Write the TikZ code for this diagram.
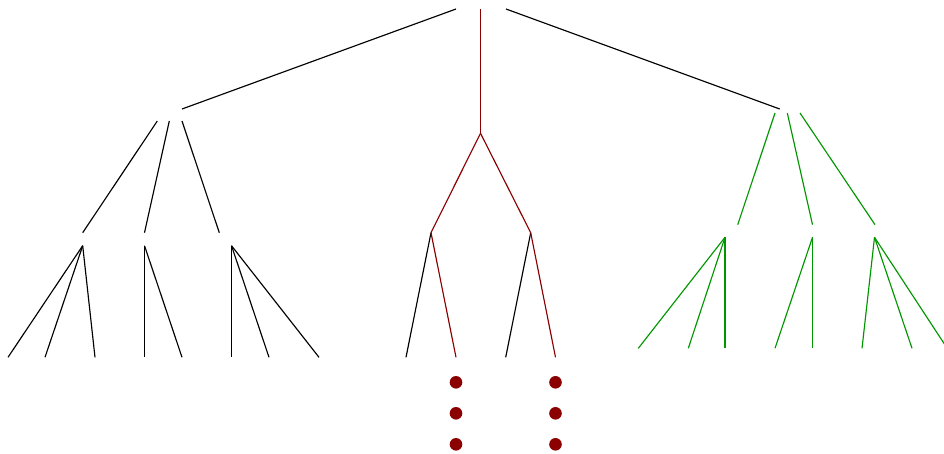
\documentclass[tikz,border=0pt]{standalone}
\definecolor{pathred}{RGB}{139,0,0}
\definecolor{treegreen}{RGB}{0,150,0}
\tikzset{
  branch/.style={draw=black, line width=1.15pt},
  redbranch/.style={draw=pathred, line width=1.15pt},
  greenbranch/.style={draw=treegreen, line width=1.15pt},
  ellipsisdot/.style={circle, fill=pathred, draw=none, inner sep=0pt, minimum size=12.6pt}
}
\begin{document}
\begin{tikzpicture}[x=1pt, y=-1pt]
\useasboundingbox (0,0) rectangle (944,453);
\clip (0,0) rectangle (944,453);

% root: three edge anchors along its lower side
\coordinate (r-sw) at (456,9);
\coordinate (r-s)  at (480.5,9);
\coordinate (r-se) at (506,9);

% left child
\coordinate (l-in) at (182,109);
\coordinate (l-a)  at (157.3,121);
\coordinate (l-b)  at (169.3,121);
\coordinate (l-c)  at (182,121);

% middle child (highlighted path)
\coordinate (m) at (480.5,133.3);

% right child
\coordinate (g-in) at (779.7,109);
\coordinate (g-a)  at (775,113);
\coordinate (g-b)  at (787.3,113);
\coordinate (g-c)  at (800,113);

% third level, left subtree
\coordinate (la-in) at (82.7,232.7);   \coordinate (la) at (82.7,245.7);
\coordinate (lb-in) at (144.5,232.7);  \coordinate (lb) at (144.5,245.7);
\coordinate (lc-in) at (219.3,232.7);  \coordinate (lc) at (231.5,245.7);

% third level, middle subtree
\coordinate (ma) at (431,232.7);
\coordinate (mb) at (530.7,232.7);

% third level, right subtree
\coordinate (ga-in) at (737.7,224.7);  \coordinate (ga) at (725,237.3);
\coordinate (gb-in) at (812.5,224.7);  \coordinate (gb) at (812.5,237.3);
\coordinate (gc-in) at (875,224.7);    \coordinate (gc) at (874.5,237.3);

% leaves, left subtree
\coordinate (la1) at (8,357.3);    \coordinate (la2) at (45,357.3);   \coordinate (la3) at (95,357.3);
\coordinate (lb1) at (144.5,357.3);\coordinate (lb2) at (182,357.3);
\coordinate (lc1) at (231.5,357.3);\coordinate (lc2) at (269,357.3);  \coordinate (lc3) at (319,357.3);

% leaves, middle subtree
\coordinate (ma1) at (406,357.3);  \coordinate (ma2) at (456,357.3);
\coordinate (mb1) at (505.7,357.3);\coordinate (mb2) at (555.5,357.3);

% leaves, right subtree
\coordinate (ga1) at (638.3,348.3);\coordinate (ga2) at (688.3,348.3);\coordinate (ga3) at (725,348.3);
\coordinate (gb1) at (775,348.3);  \coordinate (gb2) at (812.5,348.3);
\coordinate (gc1) at (862,348.3);  \coordinate (gc2) at (912,348.3);  \coordinate (gc3) at (947.2,348.3);

% root edges
\draw[branch] (r-sw) -- (l-in);
\draw[redbranch] (r-s) -- (m);
\draw[branch] (r-se) -- (g-in);

% left subtree
\draw[branch] (l-a) -- (la-in);
\draw[branch] (l-b) -- (lb-in);
\draw[branch] (l-c) -- (lc-in);
\draw[branch] (la) -- (la1);
\draw[branch] (la) -- (la2);
\draw[branch] (la) -- (la3);
\draw[branch] (lb) -- (lb1);
\draw[branch] (lb) -- (lb2);
\draw[branch] (lc) -- (lc1);
\draw[branch] (lc) -- (lc2);
\draw[branch] (lc) -- (lc3);

% middle subtree
\draw[redbranch] (m) -- (ma);
\draw[redbranch] (m) -- (mb);
\draw[branch] (ma) -- (ma1);
\draw[redbranch] (ma) -- (ma2);
\draw[branch] (mb) -- (mb1);
\draw[redbranch] (mb) -- (mb2);

% right subtree
\draw[greenbranch] (g-a) -- (ga-in);
\draw[greenbranch] (g-b) -- (gb-in);
\draw[greenbranch] (g-c) -- (gc-in);
\draw[greenbranch] (ga) -- (ga1);
\draw[greenbranch] (ga) -- (ga2);
\draw[greenbranch] (ga) -- (ga3);
\draw[greenbranch] (gb) -- (gb1);
\draw[greenbranch] (gb) -- (gb2);
\draw[greenbranch] (gc) -- (gc1);
\draw[greenbranch] (gc) -- (gc2);
\draw[greenbranch] (gc) -- (gc3);

% vertical ellipses below the highlighted leaves
\foreach \x/\n in {456/a, 555.5/b}{
  \node[ellipsisdot] (dot\n1) at (\x,382.3) {};
  \node[ellipsisdot] (dot\n2) at (\x,413.3) {};
  \node[ellipsisdot] (dot\n3) at (\x,444.3) {};
}
\end{tikzpicture}
\end{document}
